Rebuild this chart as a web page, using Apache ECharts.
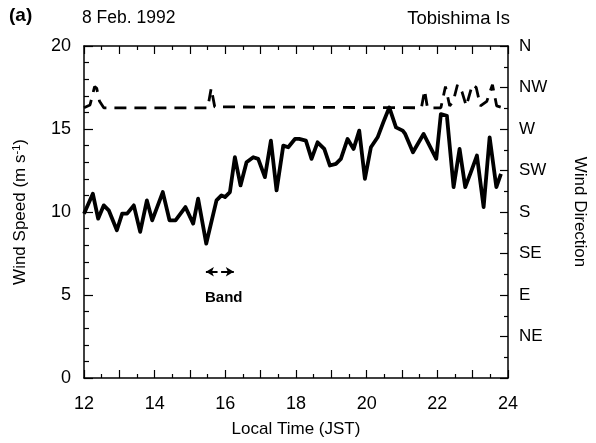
<!DOCTYPE html>
<html>
<head>
<meta charset="utf-8">
<script src="https://cdn.jsdelivr.net/npm/echarts@6/dist/echarts.min.js"></script>
<style>
  html, body { margin: 0; padding: 0; background: #fff; }
  #chart { width: 596px; height: 443px; }
</style>
</head>
<body>
<div id="chart"></div>
<script>
// Wind speed at Tobishima Is, 8 Feb. 1992 (time in hours JST, speed in m/s)
const speedTimes = [12.00, 12.25, 12.40, 12.56, 12.70, 12.93, 13.08, 13.22, 13.41, 13.59,
  13.78, 13.93, 14.23, 14.42, 14.59, 14.87, 15.09, 15.23, 15.46, 15.75,
  15.89, 15.99, 16.13, 16.27, 16.43, 16.60, 16.79, 16.93, 17.12, 17.29,
  17.45, 17.64, 17.78, 17.97, 18.09, 18.28, 18.44, 18.61, 18.80, 18.96,
  19.13, 19.27, 19.46, 19.63, 19.79, 19.95, 20.12, 20.31, 20.47, 20.64,
  20.83, 21.02, 21.09, 21.31, 21.61, 21.97, 22.10, 22.27, 22.46, 22.63,
  22.79, 22.95, 23.12, 23.31, 23.48, 23.67, 23.80];
const speedValues = [9.9, 11.1, 9.6, 10.4, 10.1, 8.9, 9.9, 9.9, 10.4, 8.8,
  10.7, 9.5, 11.2, 9.5, 9.5, 10.3, 9.3, 10.8, 8.1, 10.7,
  11.0, 10.9, 11.2, 13.3, 11.6, 13.0, 13.3, 13.2, 12.1, 14.3,
  11.3, 14.0, 13.9, 14.4, 14.4, 14.3, 13.2, 14.2, 13.8, 12.8,
  12.9, 13.2, 14.4, 13.8, 14.9, 12.0, 13.9, 14.5, 15.4, 16.3,
  15.1, 14.9, 14.7, 13.6, 14.7, 13.2, 15.9, 15.8, 11.5, 13.8,
  11.5, 12.4, 13.4, 10.3, 14.5, 11.5, 12.3];

// Wind direction (degrees, 0/360 = N)
const dirTimes = [12.00, 12.17, 12.30, 12.36, 12.44, 12.56, 15.50, 15.60, 15.70, 21.55,
  21.64, 21.72, 22.00, 22.10, 22.23, 22.35, 22.45, 22.57, 22.70, 22.82,
  22.99, 23.10, 23.22, 23.40, 23.56, 23.68, 23.85];
const dirValues = [293, 296, 316, 314, 300, 293, 293, 314, 294, 293,
  312, 293, 293, 293, 316, 295, 300, 318, 310, 295,
  318, 315, 295, 300, 318, 295, 293];

// Axis tick labels
const timeLabels = [12, 14, 16, 18, 20, 22, 24];
const speedLabels = [0, 5, 10, 15, 20];
const dirLabels = ['', 'NE', 'E', 'SE', 'S', 'SW', 'W', 'NW', 'N'];

const FONT = "'Liberation Sans', Arial, Helvetica, sans-serif";

const pairs = (xs, ys) => xs.map((x, i) => [x, ys[i]]);

const chart = echarts.init(document.getElementById('chart'), null, { renderer: 'canvas' });

const boxLine = { show: true, onZero: false, lineStyle: { color: '#000', width: 1.5 } };
const majorTick = len => ({ show: true, inside: true, length: len, lineStyle: { color: '#000', width: 1.2 } });
const minorTicks = (n, len) => ({ show: true, splitNumber: n, length: len, lineStyle: { color: '#000', width: 1.2 } });

chart.setOption({
  backgroundColor: '#fff',
  animation: false,
  textStyle: { fontFamily: FONT, color: '#000' },
  grid: { left: 84, right: 88, top: 46, bottom: 56, containLabel: false },
  xAxis: [
    {
      type: 'value', min: 12, max: 24, interval: 1,
      name: 'Local Time (JST)', nameLocation: 'middle', nameGap: 43,
      nameTextStyle: { fontSize: 17, color: '#000', fontFamily: FONT },
      axisLine: boxLine,
      axisTick: majorTick(8),
      minorTick: minorTicks(2, 4),
      splitLine: { show: false },
      axisLabel: {
        fontSize: 18, color: '#000', margin: 17, fontFamily: FONT,
        formatter: v => timeLabels.indexOf(v) >= 0 ? String(v) : ''
      }
    },
    {
      type: 'value', min: 12, max: 24, interval: 1, position: 'top',
      axisLine: boxLine,
      axisTick: majorTick(8),
      minorTick: minorTicks(2, 4),
      splitLine: { show: false },
      axisLabel: { show: false }
    }
  ],
  yAxis: [
    {
      type: 'value', min: 0, max: 20, interval: 5,
      name: 'Wind Speed (m s{sup|-1})', nameLocation: 'middle', nameGap: 54,
      nameTextStyle: {
        fontSize: 17, color: '#000', fontFamily: FONT,
        rich: { sup: { fontSize: 11, verticalAlign: 'top', padding: [0, 0, 8, 0], fontFamily: FONT } }
      },
      axisLine: boxLine,
      axisTick: majorTick(9),
      minorTick: minorTicks(5, 5),
      splitLine: { show: false },
      axisLabel: {
        fontSize: 18, color: '#000', margin: 13, fontFamily: FONT,
        formatter: v => speedLabels.indexOf(v) >= 0 ? String(v) : ''
      }
    },
    {
      type: 'value', min: 0, max: 360, interval: 45, position: 'right',
      name: 'Wind Direction', nameLocation: 'middle', nameGap: 63, nameRotate: -90,
      nameTextStyle: { fontSize: 17, color: '#000', fontFamily: FONT },
      axisLine: boxLine,
      axisTick: majorTick(8),
      minorTick: minorTicks(2, 4),
      splitLine: { show: false },
      axisLabel: {
        fontSize: 17, color: '#000', margin: 11, fontFamily: FONT,
        formatter: v => dirLabels[Math.round(v / 45)] || ''
      }
    }
  ],
  series: [
    {
      name: 'Wind Speed', type: 'line', xAxisIndex: 0, yAxisIndex: 0,
      data: pairs(speedTimes, speedValues),
      showSymbol: false, smooth: false,
      lineStyle: { color: '#000', width: 3.8, join: 'round' },
      z: 3,
      // "Band" period marker: two arrows pointing outward from the middle
      markLine: {
        silent: true, symbol: ['none', 'arrow'], symbolSize: [7, 8],
        lineStyle: { color: '#000', width: 2, type: 'solid' },
        label: { show: false },
        data: [
          [{ coord: [15.78, 6.4] }, { coord: [15.45, 6.4] }],
          [{ coord: [15.88, 6.4] }, { coord: [16.24, 6.4] }]
        ]
      }
    },
    {
      name: 'Wind Direction', type: 'line', xAxisIndex: 0, yAxisIndex: 1,
      data: pairs(dirTimes, dirValues),
      showSymbol: false, smooth: false,
      lineStyle: { color: '#000', width: 2.8, type: [12, 8] },
      z: 2
    }
  ],
  graphic: [
    { type: 'text', left: 9, top: 6, style: { text: '(a)', font: 'bold 19px ' + FONT, fill: '#000' } },
    { type: 'text', left: 82, top: 9, style: { text: '8 Feb. 1992', font: '17.5px ' + FONT, fill: '#000' } },
    { type: 'text', right: 86, top: 9, style: { text: 'Tobishima Is', font: '18.5px ' + FONT, fill: '#000' } },
    { type: 'text', left: 205, top: 290, style: { text: 'Band', font: 'bold 15px ' + FONT, fill: '#000' } }
  ]
});
</script>
</body>
</html>
